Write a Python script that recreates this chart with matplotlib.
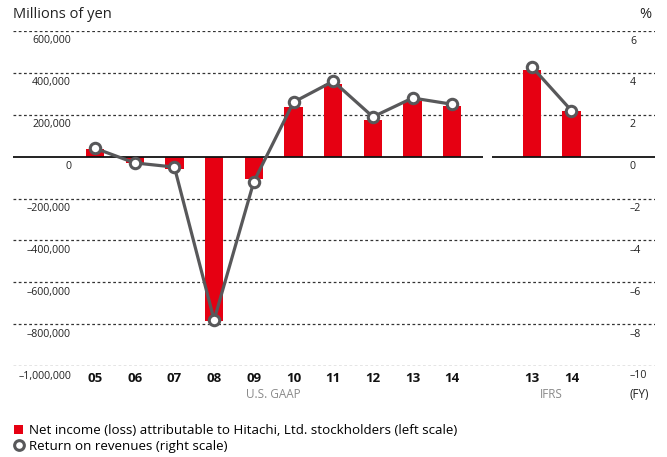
import matplotlib
matplotlib.use("Agg")
import matplotlib.pyplot as plt
import matplotlib.transforms as mtransforms
from matplotlib.patches import Patch
from matplotlib.lines import Line2D

# ---------------- data ----------------
gaap_years = ["05", "06", "07", "08", "09", "10", "11", "12", "13", "14"]
gaap_income = [37320, -32799, -58125, -787337, -106961, 238869, 347179, 175326, 264975, 243000]
gaap_ror = [0.4, -0.3, -0.5, -7.8, -1.2, 2.6, 3.6, 1.9, 2.8, 2.5]

ifrs_years = ["13", "14"]
ifrs_income = [413877, 217482]
ifrs_ror = [4.3, 2.2]

left_ticks = [600000, 400000, 200000, 0, -200000, -400000, -600000, -800000, -1000000]
left_labels = ["600,000", "400,000", "200,000", "0", "\u2013200,000", "\u2013400,000",
               "\u2013600,000", "\u2013800,000", "\u20131,000,000"]
right_ticks = [6, 4, 2, 0, -2, -4, -6, -8, -10]
right_labels = ["6", "4", "2", "0", "\u20132", "\u20134", "\u20136", "\u20138", "\u201310"]

RED = "#E60012"
GRAY = "#58585A"
FONT = "Open Sans"
plt.rcParams["font.family"] = [FONT, "DejaVu Sans"]

W, H = 667, 457
fig = plt.figure(figsize=(W / 100, H / 100), dpi=100)

def fx(px):
    return px / W

def fy(py):
    return 1 - py / H

# axes spanning gridline area: x 13..655, y 31..366
ax = fig.add_axes([fx(13), fy(366), fx(655) - fx(13), fy(31) - fy(366)])
ax2 = ax.twinx()

step = 39.7
x0 = 95.0
xmin = (13 - x0) / step
xmax = (655 - x0) / step

gaap_x = list(range(len(gaap_years)))
ifrs_x = [len(gaap_years) + 1 + i for i in range(len(ifrs_years))]

ax.set_xlim(xmin, xmax)
ax.set_ylim(-1000000, 600000)
ax2.set_ylim(-10, 6)
ax2.set_xlim(xmin, xmax)

for a in (ax, ax2):
    for s in a.spines.values():
        s.set_visible(False)
    a.set_xticks([])
    a.set_yticks([])
    a.patch.set_visible(False)

# gridlines
for t in left_ticks:
    if t == 0:
        continue
    ax.axhline(t, color="#333333", lw=0.9, ls=(0, (2.2, 2.0)), zorder=1)

# zero line (broken between GAAP and IFRS)
brk_l = (483 - x0) / step
brk_r = (492 - x0) / step
ax.plot([xmin, brk_l], [0, 0], color="#111111", lw=1.3, zorder=3, solid_capstyle="butt")
ax.plot([brk_r, xmax], [0, 0], color="#111111", lw=1.3, zorder=3, solid_capstyle="butt")

bw = 0.46
ax.bar(gaap_x, gaap_income, width=bw, color=RED, zorder=2)
ax.bar(ifrs_x, ifrs_income, width=bw, color=RED, zorder=2)

mk = dict(marker="o", markersize=7.5, markerfacecolor="white", markeredgecolor=GRAY,
          markeredgewidth=2.2, color=GRAY, lw=2.3, zorder=5)
ax2.plot(gaap_x, gaap_ror, **mk)
ax2.plot(ifrs_x, ifrs_ror, **mk)

# tick labels (below gridlines)
off = mtransforms.ScaledTranslation(0, -10 / 100, fig.dpi_scale_trans)
tl = mtransforms.blended_transform_factory(fig.transFigure, ax.transData)
for v, lab in zip(left_ticks, left_labels):
    fig.text(fx(71), v, lab, transform=tl + off, ha="right", va="center",
             fontsize=7.6, color="#222222")
tr = mtransforms.blended_transform_factory(fig.transFigure, ax2.transData)
for v, lab in zip(right_ticks, right_labels):
    fig.text(fx(630), v, lab, transform=tr + off, ha="left", va="center",
             fontsize=7.6, color="#222222")

# category labels
tx = mtransforms.blended_transform_factory(ax.transData, fig.transFigure)
for xi, lab in zip(gaap_x + ifrs_x, gaap_years + ifrs_years):
    fig.text(xi, fy(378), lab, transform=tx, ha="center", va="center",
             fontsize=9.5, fontweight="bold", color="#111111")
fig.text((gaap_x[0] + gaap_x[-1]) / 2, fy(394), "U.S. GAAP", transform=tx,
         ha="center", va="center", fontsize=8.5, color="#8a8a8a")
fig.text((ifrs_x[0] + ifrs_x[-1]) / 2, fy(394), "IFRS", transform=tx,
         ha="center", va="center", fontsize=8.5, color="#8a8a8a")
fig.text(fx(630), fy(394), "(FY)", ha="left", va="center", fontsize=8.5, color="#222222")

# titles
fig.text(fx(13), fy(15), "Millions of yen", ha="left", va="center", fontsize=10.5, color="#222222")
fig.text(fx(651), fy(15), "%", ha="right", va="center", fontsize=10.5, color="#222222")

# legend
handles = [Patch(facecolor=RED, edgecolor="none"),
           Line2D([], [], marker="o", ls="none", markersize=7, markerfacecolor="white",
                  markeredgecolor=GRAY, markeredgewidth=2.2)]
labels = ["Net income (loss) attributable to Hitachi, Ltd. stockholders (left scale)",
          "Return on revenues (right scale)"]
fig.legend(handles, labels, loc="upper left", bbox_to_anchor=(fx(14), fy(424)),
           frameon=False, fontsize=9.6, handlelength=0.7, handleheight=0.7,
           handletextpad=0.45, labelspacing=0.2, borderpad=0, borderaxespad=0)

fig.savefig("out.png", dpi=100)
